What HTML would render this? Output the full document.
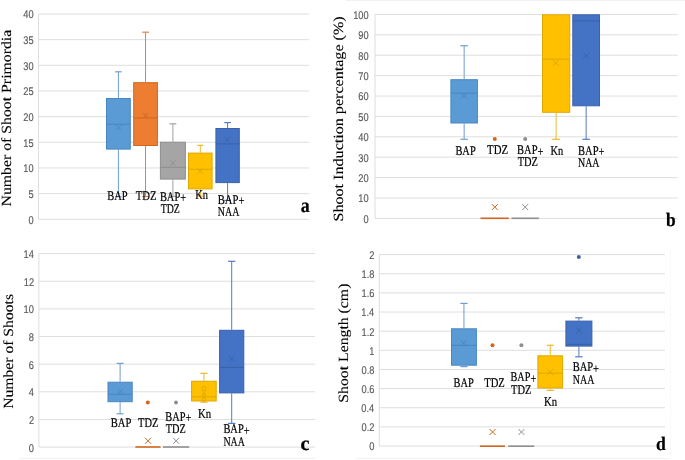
<!DOCTYPE html>
<html><head><meta charset="utf-8"><style>
html,body{margin:0;padding:0;background:#fff;width:685px;height:460px;overflow:hidden;}
svg{display:block;will-change:transform;}
text{text-rendering:geometricPrecision;}

</style></head><body>
<svg width="685" height="460" viewBox="0 0 685 460">
<rect width="685" height="460" fill="#fff"/>
<line x1="346.00" y1="0.50" x2="685.00" y2="0.50" stroke="#f2f2f2" stroke-width="1"/>
<line x1="19.00" y1="458.50" x2="315.00" y2="458.50" stroke="#f2f2f2" stroke-width="1"/>
<line x1="356.50" y1="458.50" x2="670.00" y2="458.50" stroke="#f2f2f2" stroke-width="1"/>
<line x1="670.50" y1="247.00" x2="670.50" y2="458.00" stroke="#f9f9f9" stroke-width="1"/>
<line x1="38.50" y1="219.30" x2="309.00" y2="219.30" stroke="#dedede" stroke-width="1.0"/>
<text transform="translate(28.49,223.70) scale(0.8300,1)" font-family='"Liberation Sans", sans-serif' font-size="11.2" fill="#595959" stroke="#595959" stroke-width="0.15">0</text>
<line x1="38.50" y1="193.64" x2="309.00" y2="193.64" stroke="#dedede" stroke-width="1.0"/>
<text transform="translate(28.52,198.04) scale(0.8300,1)" font-family='"Liberation Sans", sans-serif' font-size="11.2" fill="#595959" stroke="#595959" stroke-width="0.15">5</text>
<line x1="38.50" y1="167.98" x2="309.00" y2="167.98" stroke="#dedede" stroke-width="1.0"/>
<text transform="translate(23.32,172.38) scale(0.8300,1)" font-family='"Liberation Sans", sans-serif' font-size="11.2" fill="#595959" stroke="#595959" stroke-width="0.15">10</text>
<line x1="38.50" y1="142.31" x2="309.00" y2="142.31" stroke="#dedede" stroke-width="1.0"/>
<text transform="translate(23.35,146.71) scale(0.8300,1)" font-family='"Liberation Sans", sans-serif' font-size="11.2" fill="#595959" stroke="#595959" stroke-width="0.15">15</text>
<line x1="38.50" y1="116.65" x2="309.00" y2="116.65" stroke="#dedede" stroke-width="1.0"/>
<text transform="translate(23.32,121.05) scale(0.8300,1)" font-family='"Liberation Sans", sans-serif' font-size="11.2" fill="#595959" stroke="#595959" stroke-width="0.15">20</text>
<line x1="38.50" y1="90.99" x2="309.00" y2="90.99" stroke="#dedede" stroke-width="1.0"/>
<text transform="translate(23.35,95.39) scale(0.8300,1)" font-family='"Liberation Sans", sans-serif' font-size="11.2" fill="#595959" stroke="#595959" stroke-width="0.15">25</text>
<line x1="38.50" y1="65.32" x2="309.00" y2="65.32" stroke="#dedede" stroke-width="1.0"/>
<text transform="translate(23.32,69.72) scale(0.8300,1)" font-family='"Liberation Sans", sans-serif' font-size="11.2" fill="#595959" stroke="#595959" stroke-width="0.15">30</text>
<line x1="38.50" y1="39.66" x2="309.00" y2="39.66" stroke="#dedede" stroke-width="1.0"/>
<text transform="translate(23.35,44.06) scale(0.8300,1)" font-family='"Liberation Sans", sans-serif' font-size="11.2" fill="#595959" stroke="#595959" stroke-width="0.15">35</text>
<line x1="38.50" y1="14.00" x2="309.00" y2="14.00" stroke="#dedede" stroke-width="1.0"/>
<text transform="translate(23.32,18.40) scale(0.8300,1)" font-family='"Liberation Sans", sans-serif' font-size="11.2" fill="#595959" stroke="#595959" stroke-width="0.15">40</text>
<line x1="38.50" y1="14.00" x2="38.50" y2="219.30" stroke="#dedede" stroke-width="1.0"/>
<line x1="118.40" y1="71.80" x2="118.40" y2="98.00" stroke="#6E9DD1" stroke-width="1"/>
<line x1="115.15" y1="71.80" x2="121.65" y2="71.80" stroke="#6E9DD1" stroke-width="1.2"/>
<line x1="118.40" y1="149.60" x2="118.40" y2="196.60" stroke="#6E9DD1" stroke-width="1"/>
<line x1="115.15" y1="196.60" x2="121.65" y2="196.60" stroke="#6E9DD1" stroke-width="1.2"/>
<rect x="106.50" y="98.50" width="23.80" height="50.60" fill="#5B9BD5" stroke="#4A86C0" stroke-width="1"/>
<line x1="106.50" y1="124.20" x2="130.30" y2="124.20" stroke="#4A86C0" stroke-width="1"/>
<path d="M115.80 124.90L121.00 130.10M121.00 124.90L115.80 130.10" stroke="#4A86C0" stroke-width="1.0" fill="none"/>
<line x1="145.55" y1="32.20" x2="145.55" y2="82.20" stroke="#E27F40" stroke-width="1"/>
<line x1="142.20" y1="32.20" x2="148.90" y2="32.20" stroke="#E27F40" stroke-width="1.2"/>
<line x1="145.55" y1="146.00" x2="145.55" y2="196.60" stroke="#E27F40" stroke-width="1"/>
<line x1="142.20" y1="196.60" x2="148.90" y2="196.60" stroke="#E27F40" stroke-width="1.2"/>
<rect x="133.70" y="82.70" width="23.70" height="62.80" fill="#ED7D31" stroke="#D0661F" stroke-width="1"/>
<line x1="133.70" y1="117.90" x2="157.40" y2="117.90" stroke="#D0661F" stroke-width="1"/>
<path d="M143.00 112.90L148.20 118.10M148.20 112.90L143.00 118.10" stroke="#D0661F" stroke-width="1.0" fill="none"/>
<line x1="172.90" y1="123.80" x2="172.90" y2="141.70" stroke="#A0A0A0" stroke-width="1"/>
<line x1="169.45" y1="123.80" x2="176.35" y2="123.80" stroke="#A0A0A0" stroke-width="1.2"/>
<line x1="172.90" y1="179.60" x2="172.90" y2="196.30" stroke="#A0A0A0" stroke-width="1"/>
<line x1="169.45" y1="196.30" x2="176.35" y2="196.30" stroke="#A0A0A0" stroke-width="1.2"/>
<rect x="160.40" y="142.20" width="25.00" height="36.90" fill="#A5A5A5" stroke="#8E8E8E" stroke-width="1"/>
<line x1="160.40" y1="167.30" x2="185.40" y2="167.30" stroke="#8E8E8E" stroke-width="1"/>
<path d="M170.30 160.30L175.50 165.50M175.50 160.30L170.30 165.50" stroke="#8E8E8E" stroke-width="1.0" fill="none"/>
<line x1="200.30" y1="145.40" x2="200.30" y2="152.60" stroke="#EDB92C" stroke-width="1"/>
<line x1="197.30" y1="145.40" x2="203.30" y2="145.40" stroke="#EDB92C" stroke-width="1.2"/>
<line x1="200.30" y1="189.40" x2="200.30" y2="196.10" stroke="#EDB92C" stroke-width="1"/>
<line x1="197.30" y1="196.10" x2="203.30" y2="196.10" stroke="#EDB92C" stroke-width="1.2"/>
<rect x="188.50" y="153.10" width="23.60" height="35.80" fill="#FFC000" stroke="#DFA800" stroke-width="1"/>
<line x1="188.50" y1="169.30" x2="212.10" y2="169.30" stroke="#DFA800" stroke-width="1"/>
<path d="M197.60 168.50L202.80 173.70M202.80 168.50L197.60 173.70" stroke="#DFA800" stroke-width="1.0" fill="none"/>
<line x1="227.60" y1="122.60" x2="227.60" y2="128.00" stroke="#567AC0" stroke-width="1"/>
<line x1="224.25" y1="122.60" x2="230.95" y2="122.60" stroke="#567AC0" stroke-width="1.2"/>
<line x1="227.60" y1="183.10" x2="227.60" y2="200.40" stroke="#567AC0" stroke-width="1"/>
<line x1="224.25" y1="200.40" x2="230.95" y2="200.40" stroke="#567AC0" stroke-width="1.2"/>
<rect x="215.90" y="128.50" width="23.40" height="54.10" fill="#4472C4" stroke="#3A62AB" stroke-width="1"/>
<line x1="215.90" y1="143.90" x2="239.30" y2="143.90" stroke="#3A62AB" stroke-width="1"/>
<path d="M224.80 137.00L230.00 142.20M230.00 137.00L224.80 142.20" stroke="#3A62AB" stroke-width="1.0" fill="none"/>
<text transform="translate(107.20,200.30) scale(0.7953,1)" font-family='"Liberation Serif", serif' font-size="13.2" fill="#000" stroke="#000" stroke-width="0.2">BAP</text>
<text transform="translate(135.71,200.30) scale(0.8098,1)" font-family='"Liberation Serif", serif' font-size="13.2" fill="#000" stroke="#000" stroke-width="0.2">TDZ</text>
<text transform="translate(159.90,200.60) scale(0.7913,1)" font-family='"Liberation Serif", serif' font-size="13.2" fill="#000" stroke="#000" stroke-width="0.2">BAP<tspan dy="1.2">+</tspan></text>
<text transform="translate(160.72,212.70) scale(0.7450,1)" font-family='"Liberation Serif", serif' font-size="13.2" fill="#000" stroke="#000" stroke-width="0.2">TDZ</text>
<text transform="translate(195.20,199.30) scale(0.7909,1)" font-family='"Liberation Serif", serif' font-size="13.2" fill="#000" stroke="#000" stroke-width="0.2">Kn</text>
<text transform="translate(217.69,203.60) scale(0.8069,1)" font-family='"Liberation Serif", serif' font-size="13.2" fill="#000" stroke="#000" stroke-width="0.2">BAP<tspan dy="1.2">+</tspan></text>
<text transform="translate(217.71,215.90) scale(0.7574,1)" font-family='"Liberation Serif", serif' font-size="13.2" fill="#000" stroke="#000" stroke-width="0.2">NAA</text>
<text transform="translate(300.82,212.00) scale(0.8948,1)" font-family='"Liberation Serif", serif' font-size="20" font-weight="bold" fill="#000" stroke="#000" stroke-width="0.2">a</text>
<text transform="translate(11.30,206.45) rotate(-90) scale(1.1274,1)" font-family='"Liberation Serif", serif' font-size="14" fill="#000" stroke="#000" stroke-width="0.1">Number of Shoot Primordia</text>
<line x1="375.00" y1="218.40" x2="677.70" y2="218.40" stroke="#dedede" stroke-width="1.0"/>
<text transform="translate(363.49,222.80) scale(0.8300,1)" font-family='"Liberation Sans", sans-serif' font-size="11.2" fill="#595959" stroke="#595959" stroke-width="0.15">0</text>
<line x1="375.00" y1="198.00" x2="677.70" y2="198.00" stroke="#dedede" stroke-width="1.0"/>
<text transform="translate(358.32,202.40) scale(0.8300,1)" font-family='"Liberation Sans", sans-serif' font-size="11.2" fill="#595959" stroke="#595959" stroke-width="0.15">10</text>
<line x1="375.00" y1="177.60" x2="677.70" y2="177.60" stroke="#dedede" stroke-width="1.0"/>
<text transform="translate(358.32,182.00) scale(0.8300,1)" font-family='"Liberation Sans", sans-serif' font-size="11.2" fill="#595959" stroke="#595959" stroke-width="0.15">20</text>
<line x1="375.00" y1="157.20" x2="677.70" y2="157.20" stroke="#dedede" stroke-width="1.0"/>
<text transform="translate(358.32,161.60) scale(0.8300,1)" font-family='"Liberation Sans", sans-serif' font-size="11.2" fill="#595959" stroke="#595959" stroke-width="0.15">30</text>
<line x1="375.00" y1="136.80" x2="677.70" y2="136.80" stroke="#dedede" stroke-width="1.0"/>
<text transform="translate(358.32,141.20) scale(0.8300,1)" font-family='"Liberation Sans", sans-serif' font-size="11.2" fill="#595959" stroke="#595959" stroke-width="0.15">40</text>
<line x1="375.00" y1="116.40" x2="677.70" y2="116.40" stroke="#dedede" stroke-width="1.0"/>
<text transform="translate(358.32,120.80) scale(0.8300,1)" font-family='"Liberation Sans", sans-serif' font-size="11.2" fill="#595959" stroke="#595959" stroke-width="0.15">50</text>
<line x1="375.00" y1="96.00" x2="677.70" y2="96.00" stroke="#dedede" stroke-width="1.0"/>
<text transform="translate(358.32,100.40) scale(0.8300,1)" font-family='"Liberation Sans", sans-serif' font-size="11.2" fill="#595959" stroke="#595959" stroke-width="0.15">60</text>
<line x1="375.00" y1="75.60" x2="677.70" y2="75.60" stroke="#dedede" stroke-width="1.0"/>
<text transform="translate(358.32,80.00) scale(0.8300,1)" font-family='"Liberation Sans", sans-serif' font-size="11.2" fill="#595959" stroke="#595959" stroke-width="0.15">70</text>
<line x1="375.00" y1="55.20" x2="677.70" y2="55.20" stroke="#dedede" stroke-width="1.0"/>
<text transform="translate(358.32,59.60) scale(0.8300,1)" font-family='"Liberation Sans", sans-serif' font-size="11.2" fill="#595959" stroke="#595959" stroke-width="0.15">80</text>
<line x1="375.00" y1="34.80" x2="677.70" y2="34.80" stroke="#dedede" stroke-width="1.0"/>
<text transform="translate(358.32,39.20) scale(0.8300,1)" font-family='"Liberation Sans", sans-serif' font-size="11.2" fill="#595959" stroke="#595959" stroke-width="0.15">90</text>
<line x1="375.00" y1="14.40" x2="677.70" y2="14.40" stroke="#dedede" stroke-width="1.0"/>
<text transform="translate(353.15,18.80) scale(0.8300,1)" font-family='"Liberation Sans", sans-serif' font-size="11.2" fill="#595959" stroke="#595959" stroke-width="0.15">100</text>
<line x1="375.00" y1="14.40" x2="375.00" y2="218.40" stroke="#dedede" stroke-width="1.0"/>
<line x1="464.15" y1="45.70" x2="464.15" y2="79.20" stroke="#6E9DD1" stroke-width="1"/>
<line x1="460.40" y1="45.70" x2="467.90" y2="45.70" stroke="#6E9DD1" stroke-width="1.2"/>
<line x1="464.15" y1="123.50" x2="464.15" y2="139.30" stroke="#6E9DD1" stroke-width="1"/>
<line x1="460.40" y1="139.30" x2="467.90" y2="139.30" stroke="#6E9DD1" stroke-width="1.2"/>
<rect x="450.90" y="79.70" width="26.50" height="43.30" fill="#5B9BD5" stroke="#4A86C0" stroke-width="1"/>
<line x1="450.90" y1="93.10" x2="477.40" y2="93.10" stroke="#4A86C0" stroke-width="1"/>
<path d="M460.90 92.60L467.10 98.80M467.10 92.60L460.90 98.80" stroke="#4A86C0" stroke-width="1.0" fill="none"/>
<circle cx="494.80" cy="139.10" r="2.0" fill="#D0661F"/>
<line x1="480.50" y1="218.30" x2="508.80" y2="218.30" stroke="#D0661F" stroke-width="1.6"/>
<path d="M491.80 204.10L497.80 210.10M497.80 204.10L491.80 210.10" stroke="#D0661F" stroke-width="1.0" fill="none"/>
<circle cx="525.20" cy="139.10" r="2.0" fill="#8E8E8E"/>
<line x1="511.50" y1="218.30" x2="538.90" y2="218.30" stroke="#8E8E8E" stroke-width="1.6"/>
<path d="M522.20 204.10L528.20 210.10M528.20 204.10L522.20 210.10" stroke="#8E8E8E" stroke-width="1.0" fill="none"/>
<line x1="556.10" y1="112.80" x2="556.10" y2="139.30" stroke="#EDB92C" stroke-width="1"/>
<line x1="552.10" y1="139.30" x2="560.10" y2="139.30" stroke="#EDB92C" stroke-width="1.2"/>
<rect x="542.50" y="14.80" width="27.20" height="97.50" fill="#FFC000" stroke="#DFA800" stroke-width="1"/>
<line x1="542.50" y1="59.10" x2="569.70" y2="59.10" stroke="#DFA800" stroke-width="1"/>
<path d="M552.60 59.90L558.80 66.10M558.80 59.90L552.60 66.10" stroke="#DFA800" stroke-width="1.0" fill="none"/>
<line x1="586.15" y1="106.30" x2="586.15" y2="139.30" stroke="#567AC0" stroke-width="1"/>
<line x1="582.40" y1="139.30" x2="589.90" y2="139.30" stroke="#567AC0" stroke-width="1.2"/>
<rect x="572.80" y="14.80" width="26.70" height="91.00" fill="#4472C4" stroke="#3A62AB" stroke-width="1"/>
<line x1="572.80" y1="20.90" x2="599.50" y2="20.90" stroke="#3A62AB" stroke-width="1"/>
<path d="M583.00 52.60L589.20 58.80M589.20 52.60L583.00 58.80" stroke="#3A62AB" stroke-width="1.0" fill="none"/>
<text transform="translate(455.40,154.70) scale(0.7913,1)" font-family='"Liberation Serif", serif' font-size="13.2" fill="#000" stroke="#000" stroke-width="0.2">BAP</text>
<text transform="translate(487.10,154.40) scale(0.8179,1)" font-family='"Liberation Serif", serif' font-size="13.2" fill="#000" stroke="#000" stroke-width="0.2">TDZ</text>
<text transform="translate(517.10,154.40) scale(0.7976,1)" font-family='"Liberation Serif", serif' font-size="13.2" fill="#000" stroke="#000" stroke-width="0.2">BAP<tspan dy="1.2">+</tspan></text>
<text transform="translate(517.71,165.50) scale(0.7895,1)" font-family='"Liberation Serif", serif' font-size="13.2" fill="#000" stroke="#000" stroke-width="0.2">TDZ</text>
<text transform="translate(550.40,154.70) scale(0.7909,1)" font-family='"Liberation Serif", serif' font-size="13.2" fill="#000" stroke="#000" stroke-width="0.2">Kn</text>
<text transform="translate(578.00,154.70) scale(0.8007,1)" font-family='"Liberation Serif", serif' font-size="13.2" fill="#000" stroke="#000" stroke-width="0.2">BAP<tspan dy="1.2">+</tspan></text>
<text transform="translate(578.01,166.60) scale(0.7539,1)" font-family='"Liberation Serif", serif' font-size="13.2" fill="#000" stroke="#000" stroke-width="0.2">NAA</text>
<text transform="translate(665.98,226.20) scale(0.9105,1)" font-family='"Liberation Serif", serif' font-size="19" font-weight="bold" fill="#000" stroke="#000" stroke-width="0.2">b</text>
<text transform="translate(343.40,221.48) rotate(-90) scale(1.1499,1)" font-family='"Liberation Serif", serif' font-size="14" fill="#000" stroke="#000" stroke-width="0.1">Shoot Induction percentage (%)</text>
<line x1="38.90" y1="447.10" x2="315.00" y2="447.10" stroke="#dedede" stroke-width="1.0"/>
<text transform="translate(28.79,451.50) scale(0.8300,1)" font-family='"Liberation Sans", sans-serif' font-size="11.2" fill="#595959" stroke="#595959" stroke-width="0.15">0</text>
<line x1="38.90" y1="419.46" x2="315.00" y2="419.46" stroke="#dedede" stroke-width="1.0"/>
<text transform="translate(28.90,423.86) scale(0.8300,1)" font-family='"Liberation Sans", sans-serif' font-size="11.2" fill="#595959" stroke="#595959" stroke-width="0.15">2</text>
<line x1="38.90" y1="391.82" x2="315.00" y2="391.82" stroke="#dedede" stroke-width="1.0"/>
<text transform="translate(28.70,396.22) scale(0.8300,1)" font-family='"Liberation Sans", sans-serif' font-size="11.2" fill="#595959" stroke="#595959" stroke-width="0.15">4</text>
<line x1="38.90" y1="364.18" x2="315.00" y2="364.18" stroke="#dedede" stroke-width="1.0"/>
<text transform="translate(28.84,368.58) scale(0.8300,1)" font-family='"Liberation Sans", sans-serif' font-size="11.2" fill="#595959" stroke="#595959" stroke-width="0.15">6</text>
<line x1="38.90" y1="336.54" x2="315.00" y2="336.54" stroke="#dedede" stroke-width="1.0"/>
<text transform="translate(28.83,340.94) scale(0.8300,1)" font-family='"Liberation Sans", sans-serif' font-size="11.2" fill="#595959" stroke="#595959" stroke-width="0.15">8</text>
<line x1="38.90" y1="308.90" x2="315.00" y2="308.90" stroke="#dedede" stroke-width="1.0"/>
<text transform="translate(23.62,313.30) scale(0.8300,1)" font-family='"Liberation Sans", sans-serif' font-size="11.2" fill="#595959" stroke="#595959" stroke-width="0.15">10</text>
<line x1="38.90" y1="281.26" x2="315.00" y2="281.26" stroke="#dedede" stroke-width="1.0"/>
<text transform="translate(23.73,285.66) scale(0.8300,1)" font-family='"Liberation Sans", sans-serif' font-size="11.2" fill="#595959" stroke="#595959" stroke-width="0.15">12</text>
<line x1="38.90" y1="253.62" x2="315.00" y2="253.62" stroke="#dedede" stroke-width="1.0"/>
<text transform="translate(23.53,258.02) scale(0.8300,1)" font-family='"Liberation Sans", sans-serif' font-size="11.2" fill="#595959" stroke="#595959" stroke-width="0.15">14</text>
<line x1="38.90" y1="253.62" x2="38.90" y2="447.10" stroke="#dedede" stroke-width="1.0"/>
<line x1="120.10" y1="363.40" x2="120.10" y2="381.70" stroke="#6E9DD1" stroke-width="1"/>
<line x1="116.65" y1="363.40" x2="123.55" y2="363.40" stroke="#6E9DD1" stroke-width="1.2"/>
<line x1="120.10" y1="402.20" x2="120.10" y2="413.80" stroke="#6E9DD1" stroke-width="1"/>
<line x1="116.65" y1="413.80" x2="123.55" y2="413.80" stroke="#6E9DD1" stroke-width="1.2"/>
<rect x="108.00" y="382.20" width="24.20" height="19.50" fill="#5B9BD5" stroke="#4A86C0" stroke-width="1"/>
<line x1="108.00" y1="394.30" x2="132.20" y2="394.30" stroke="#4A86C0" stroke-width="1"/>
<path d="M117.70 389.10L122.90 394.30M122.90 389.10L117.70 394.30" stroke="#4A86C0" stroke-width="1.0" fill="none"/>
<circle cx="147.80" cy="402.50" r="2.0" fill="#D0661F"/>
<line x1="135.40" y1="447.00" x2="160.50" y2="447.00" stroke="#D0661F" stroke-width="1.6"/>
<path d="M145.10 437.80L151.10 443.80M151.10 437.80L145.10 443.80" stroke="#D0661F" stroke-width="1.0" fill="none"/>
<circle cx="176.00" cy="402.50" r="2.0" fill="#8E8E8E"/>
<line x1="163.00" y1="447.00" x2="189.20" y2="447.00" stroke="#8E8E8E" stroke-width="1.6"/>
<path d="M173.10 437.80L179.10 443.80M179.10 437.80L173.10 443.80" stroke="#8E8E8E" stroke-width="1.0" fill="none"/>
<line x1="203.90" y1="373.30" x2="203.90" y2="380.70" stroke="#EDB92C" stroke-width="1"/>
<line x1="200.30" y1="373.30" x2="207.50" y2="373.30" stroke="#EDB92C" stroke-width="1.2"/>
<line x1="203.90" y1="401.50" x2="203.90" y2="402.20" stroke="#EDB92C" stroke-width="1"/>
<line x1="200.30" y1="402.20" x2="207.50" y2="402.20" stroke="#EDB92C" stroke-width="1.2"/>
<rect x="191.60" y="381.20" width="24.60" height="19.80" fill="#FFC000" stroke="#DFA800" stroke-width="1"/>
<line x1="191.60" y1="396.80" x2="216.20" y2="396.80" stroke="#DFA800" stroke-width="1"/>
<circle cx="203.9" cy="388.3" r="1.9" fill="none" stroke="#DFA800" stroke-width="0.9"/>
<path d="M201.50 390.20L206.30 395.00M206.30 390.20L201.50 395.00" stroke="#DFA800" stroke-width="0.9" fill="none"/>
<circle cx="203.9" cy="396.3" r="1.7" fill="none" stroke="#DFA800" stroke-width="0.9"/>
<circle cx="203.9" cy="399.6" r="1.7" fill="none" stroke="#DFA800" stroke-width="0.9"/>
<line x1="231.70" y1="261.30" x2="231.70" y2="329.80" stroke="#567AC0" stroke-width="1"/>
<line x1="228.05" y1="261.30" x2="235.35" y2="261.30" stroke="#567AC0" stroke-width="1.2"/>
<line x1="231.70" y1="393.40" x2="231.70" y2="423.40" stroke="#567AC0" stroke-width="1"/>
<line x1="228.05" y1="423.40" x2="235.35" y2="423.40" stroke="#567AC0" stroke-width="1.2"/>
<rect x="219.60" y="330.30" width="24.20" height="62.60" fill="#4472C4" stroke="#3A62AB" stroke-width="1"/>
<line x1="219.60" y1="367.40" x2="243.80" y2="367.40" stroke="#3A62AB" stroke-width="1"/>
<path d="M229.00 356.20L234.20 361.40M234.20 356.20L229.00 361.40" stroke="#3A62AB" stroke-width="1.0" fill="none"/>
<text transform="translate(110.79,426.50) scale(0.8034,1)" font-family='"Liberation Serif", serif' font-size="13.2" fill="#000" stroke="#000" stroke-width="0.2">BAP</text>
<text transform="translate(138.11,426.80) scale(0.7895,1)" font-family='"Liberation Serif", serif' font-size="13.2" fill="#000" stroke="#000" stroke-width="0.2">TDZ</text>
<text transform="translate(165.30,420.70) scale(0.7851,1)" font-family='"Liberation Serif", serif' font-size="13.2" fill="#000" stroke="#000" stroke-width="0.2">BAP<tspan dy="1.2">+</tspan></text>
<text transform="translate(165.81,432.60) scale(0.7814,1)" font-family='"Liberation Serif", serif' font-size="13.2" fill="#000" stroke="#000" stroke-width="0.2">TDZ</text>
<text transform="translate(197.99,418.20) scale(0.8166,1)" font-family='"Liberation Serif", serif' font-size="13.2" fill="#000" stroke="#000" stroke-width="0.2">Kn</text>
<text transform="translate(223.40,433.30) scale(0.7913,1)" font-family='"Liberation Serif", serif' font-size="13.2" fill="#000" stroke="#000" stroke-width="0.2">BAP<tspan dy="1.2">+</tspan></text>
<text transform="translate(223.41,445.50) scale(0.7503,1)" font-family='"Liberation Serif", serif' font-size="13.2" fill="#000" stroke="#000" stroke-width="0.2">NAA</text>
<text transform="translate(300.61,449.70) scale(1.0136,1)" font-family='"Liberation Serif", serif' font-size="20" font-weight="bold" fill="#000" stroke="#000" stroke-width="0.2">c</text>
<text transform="translate(13.20,408.75) rotate(-90) scale(1.1174,1)" font-family='"Liberation Serif", serif' font-size="14" fill="#000" stroke="#000" stroke-width="0.1">Number of Shoots</text>
<line x1="379.30" y1="446.00" x2="665.00" y2="446.00" stroke="#dedede" stroke-width="1.0"/>
<text transform="translate(369.19,450.40) scale(0.8300,1)" font-family='"Liberation Sans", sans-serif' font-size="11.2" fill="#595959" stroke="#595959" stroke-width="0.15">0</text>
<line x1="379.30" y1="426.86" x2="665.00" y2="426.86" stroke="#dedede" stroke-width="1.0"/>
<text transform="translate(361.54,431.26) scale(0.8300,1)" font-family='"Liberation Sans", sans-serif' font-size="11.2" fill="#595959" stroke="#595959" stroke-width="0.15">0.2</text>
<line x1="379.30" y1="407.72" x2="665.00" y2="407.72" stroke="#dedede" stroke-width="1.0"/>
<text transform="translate(361.35,412.12) scale(0.8300,1)" font-family='"Liberation Sans", sans-serif' font-size="11.2" fill="#595959" stroke="#595959" stroke-width="0.15">0.4</text>
<line x1="379.30" y1="388.58" x2="665.00" y2="388.58" stroke="#dedede" stroke-width="1.0"/>
<text transform="translate(361.49,392.98) scale(0.8300,1)" font-family='"Liberation Sans", sans-serif' font-size="11.2" fill="#595959" stroke="#595959" stroke-width="0.15">0.6</text>
<line x1="379.30" y1="369.44" x2="665.00" y2="369.44" stroke="#dedede" stroke-width="1.0"/>
<text transform="translate(361.48,373.84) scale(0.8300,1)" font-family='"Liberation Sans", sans-serif' font-size="11.2" fill="#595959" stroke="#595959" stroke-width="0.15">0.8</text>
<line x1="379.30" y1="350.30" x2="665.00" y2="350.30" stroke="#dedede" stroke-width="1.0"/>
<text transform="translate(369.28,354.70) scale(0.8300,1)" font-family='"Liberation Sans", sans-serif' font-size="11.2" fill="#595959" stroke="#595959" stroke-width="0.15">1</text>
<line x1="379.30" y1="331.16" x2="665.00" y2="331.16" stroke="#dedede" stroke-width="1.0"/>
<text transform="translate(361.54,335.56) scale(0.8300,1)" font-family='"Liberation Sans", sans-serif' font-size="11.2" fill="#595959" stroke="#595959" stroke-width="0.15">1.2</text>
<line x1="379.30" y1="312.02" x2="665.00" y2="312.02" stroke="#dedede" stroke-width="1.0"/>
<text transform="translate(361.35,316.42) scale(0.8300,1)" font-family='"Liberation Sans", sans-serif' font-size="11.2" fill="#595959" stroke="#595959" stroke-width="0.15">1.4</text>
<line x1="379.30" y1="292.88" x2="665.00" y2="292.88" stroke="#dedede" stroke-width="1.0"/>
<text transform="translate(361.49,297.28) scale(0.8300,1)" font-family='"Liberation Sans", sans-serif' font-size="11.2" fill="#595959" stroke="#595959" stroke-width="0.15">1.6</text>
<line x1="379.30" y1="273.74" x2="665.00" y2="273.74" stroke="#dedede" stroke-width="1.0"/>
<text transform="translate(361.48,278.14) scale(0.8300,1)" font-family='"Liberation Sans", sans-serif' font-size="11.2" fill="#595959" stroke="#595959" stroke-width="0.15">1.8</text>
<line x1="379.30" y1="254.60" x2="665.00" y2="254.60" stroke="#dedede" stroke-width="1.0"/>
<text transform="translate(369.30,259.00) scale(0.8300,1)" font-family='"Liberation Sans", sans-serif' font-size="11.2" fill="#595959" stroke="#595959" stroke-width="0.15">2</text>
<line x1="379.30" y1="254.60" x2="379.30" y2="446.00" stroke="#dedede" stroke-width="1.0"/>
<line x1="463.95" y1="303.40" x2="463.95" y2="328.30" stroke="#6E9DD1" stroke-width="1"/>
<line x1="460.30" y1="303.40" x2="467.60" y2="303.40" stroke="#6E9DD1" stroke-width="1.2"/>
<line x1="463.95" y1="365.70" x2="463.95" y2="366.60" stroke="#6E9DD1" stroke-width="1"/>
<line x1="460.30" y1="366.60" x2="467.60" y2="366.60" stroke="#6E9DD1" stroke-width="1.2"/>
<rect x="451.50" y="328.80" width="24.90" height="36.40" fill="#5B9BD5" stroke="#4A86C0" stroke-width="1"/>
<line x1="451.50" y1="345.30" x2="476.40" y2="345.30" stroke="#4A86C0" stroke-width="1"/>
<path d="M460.40 339.90L466.60 346.10M466.60 339.90L460.40 346.10" stroke="#4A86C0" stroke-width="1.0" fill="none"/>
<circle cx="492.50" cy="345.30" r="2.0" fill="#D0661F"/>
<line x1="479.90" y1="446.20" x2="505.00" y2="446.20" stroke="#D0661F" stroke-width="1.6"/>
<path d="M489.50 429.00L495.50 435.00M495.50 429.00L489.50 435.00" stroke="#D0661F" stroke-width="1.0" fill="none"/>
<circle cx="521.40" cy="345.30" r="2.0" fill="#8E8E8E"/>
<line x1="508.20" y1="446.20" x2="534.20" y2="446.20" stroke="#8E8E8E" stroke-width="1.6"/>
<path d="M518.40 429.00L524.40 435.00M524.40 429.00L518.40 435.00" stroke="#8E8E8E" stroke-width="1.0" fill="none"/>
<line x1="550.25" y1="345.30" x2="550.25" y2="355.30" stroke="#EDB92C" stroke-width="1"/>
<line x1="546.60" y1="345.30" x2="553.90" y2="345.30" stroke="#EDB92C" stroke-width="1.2"/>
<line x1="550.25" y1="388.50" x2="550.25" y2="390.40" stroke="#EDB92C" stroke-width="1"/>
<line x1="546.60" y1="390.40" x2="553.90" y2="390.40" stroke="#EDB92C" stroke-width="1.2"/>
<rect x="537.90" y="355.80" width="24.70" height="32.20" fill="#FFC000" stroke="#DFA800" stroke-width="1"/>
<line x1="537.90" y1="373.20" x2="562.60" y2="373.20" stroke="#DFA800" stroke-width="1"/>
<path d="M547.00 369.10L553.20 375.30M553.20 369.10L547.00 375.30" stroke="#DFA800" stroke-width="1.0" fill="none"/>
<line x1="578.90" y1="317.80" x2="578.90" y2="320.60" stroke="#567AC0" stroke-width="1"/>
<line x1="575.15" y1="317.80" x2="582.65" y2="317.80" stroke="#567AC0" stroke-width="1.2"/>
<line x1="578.90" y1="346.60" x2="578.90" y2="356.80" stroke="#567AC0" stroke-width="1"/>
<line x1="575.15" y1="356.80" x2="582.65" y2="356.80" stroke="#567AC0" stroke-width="1.2"/>
<rect x="565.90" y="321.10" width="26.00" height="25.00" fill="#4472C4" stroke="#3A62AB" stroke-width="1"/>
<line x1="565.90" y1="344.40" x2="591.90" y2="344.40" stroke="#3A62AB" stroke-width="1"/>
<path d="M575.80 327.30L582.00 333.50M582.00 327.30L575.80 333.50" stroke="#3A62AB" stroke-width="1.0" fill="none"/>
<circle cx="578.80" cy="257.00" r="2.0" fill="#3A62AB"/>
<text transform="translate(453.50,386.70) scale(0.7873,1)" font-family='"Liberation Serif", serif' font-size="13.2" fill="#000" stroke="#000" stroke-width="0.2">BAP</text>
<text transform="translate(484.21,386.70) scale(0.8017,1)" font-family='"Liberation Serif", serif' font-size="13.2" fill="#000" stroke="#000" stroke-width="0.2">TDZ</text>
<text transform="translate(510.50,381.30) scale(0.7758,1)" font-family='"Liberation Serif", serif' font-size="13.2" fill="#000" stroke="#000" stroke-width="0.2">BAP<tspan dy="1.2">+</tspan></text>
<text transform="translate(511.11,393.50) scale(0.7895,1)" font-family='"Liberation Serif", serif' font-size="13.2" fill="#000" stroke="#000" stroke-width="0.2">TDZ</text>
<text transform="translate(543.99,405.60) scale(0.8166,1)" font-family='"Liberation Serif", serif' font-size="13.2" fill="#000" stroke="#000" stroke-width="0.2">Kn</text>
<text transform="translate(572.70,371.40) scale(0.7945,1)" font-family='"Liberation Serif", serif' font-size="13.2" fill="#000" stroke="#000" stroke-width="0.2">BAP<tspan dy="1.2">+</tspan></text>
<text transform="translate(572.71,383.60) scale(0.7574,1)" font-family='"Liberation Serif", serif' font-size="13.2" fill="#000" stroke="#000" stroke-width="0.2">NAA</text>
<text transform="translate(656.08,449.50) scale(0.9287,1)" font-family='"Liberation Serif", serif' font-size="19" font-weight="bold" fill="#000" stroke="#000" stroke-width="0.2">d</text>
<text transform="translate(348.40,402.76) rotate(-90) scale(1.1266,1)" font-family='"Liberation Serif", serif' font-size="14" fill="#000" stroke="#000" stroke-width="0.1">Shoot Length (cm)</text>
</svg>
</body></html>
